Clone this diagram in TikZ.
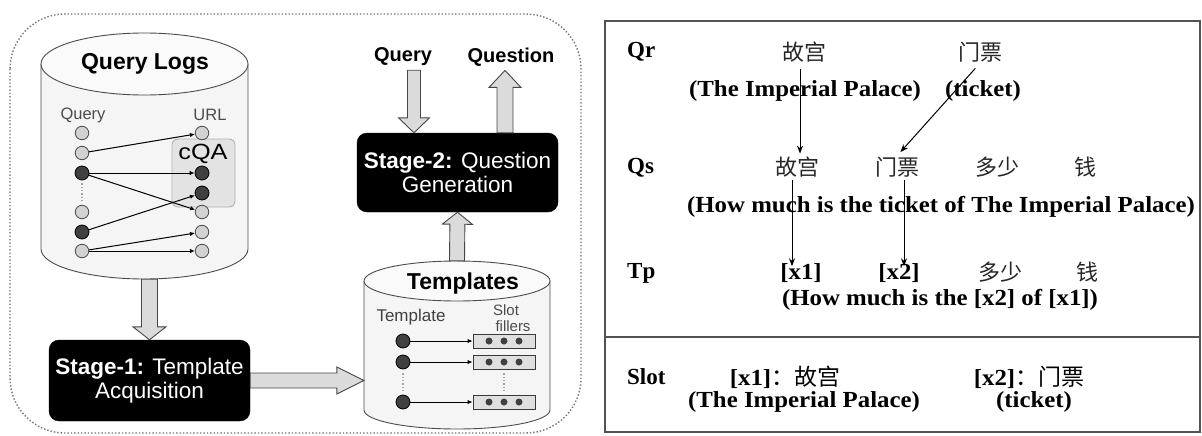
\documentclass[tikz,border=0pt]{standalone}
\usepackage{fontspec}
\setmainfont{Liberation Serif}
\setsansfont{Liberation Sans}
\newfontfamily\cjk{Noto Sans CJK SC}
\usetikzlibrary{calc,arrows.meta}

% broad outlined arrow: start, tip, shaft half-width, head half-width, head length
\newcommand\fatarrow[5]{%
  \coordinate (fa-base) at ($(#2)!#5!(#1)$);
  \draw[fatarrowstyle]
    ($(#1)!#3!90:(#2)$) -- ($(fa-base)!#3!90:(#2)$) -- ($(fa-base)!#4!90:(#2)$)
    -- (#2) -- ($(fa-base)!#4!-90:(#2)$) -- ($(fa-base)!#3!-90:(#2)$)
    -- ($(#1)!#3!-90:(#2)$) -- cycle;}
\newcommand\wideen[1]{\scalebox{1.08}[1]{#1}}
\newcommand\zh[1]{{\cjk\mdseries #1}}

\begin{document}
\begin{tikzpicture}[x=1pt,y=-1pt,
  frame/.style={draw=black!55, dotted, line width=1.4pt, rounded corners=55pt},
  cylline/.style={draw=gray!60!black, line width=0.9pt},
  fatarrowstyle/.style={draw=gray!55!black, fill=gray!28, line width=0.9pt, line join=miter},
  stagebox/.style={fill=black, draw=black, rounded corners=10pt, text=white, align=center,
    font=\sffamily\fontsize{22.5}{23.5}\selectfont, inner sep=0pt},
  lightdot/.style={circle, draw=gray!60!black, fill=gray!35, line width=0.8pt, minimum size=13.5pt, inner sep=0pt},
  darkdot/.style={circle, draw=black, fill=black!75, line width=0.8pt, minimum size=14pt, inner sep=0pt},
  smalldot/.style={circle, fill=black!75, minimum size=7pt, inner sep=0pt},
  slotbox/.style={draw=gray!45!black, fill=gray!25, line width=0.9pt, minimum width=62pt, minimum height=14pt, inner sep=0pt},
  linkarrow/.style={-{Latex[length=5pt,width=4.5pt]}, line width=1pt},
  dotline/.style={gray!70, dotted, line width=1.3pt},
  smalllbl/.style={font=\sffamily\fontsize{16.5}{18}\selectfont, text=black!70, inner sep=1pt},
  toplbl/.style={font=\sffamily\bfseries\fontsize{20}{22}\selectfont, inner sep=1pt},
  panel/.style={draw=gray!65!black, line width=1.6pt},
  en/.style={font=\bfseries\fontsize{23}{26}\selectfont, inner sep=1pt},
  zhnode/.style={font=\cjk\fontsize{22}{26}\selectfont, text=black!85, inner sep=3pt},
  rowlbl/.style={font=\bfseries\fontsize{23}{26}\selectfont, inner sep=0pt, anchor=west},
  maparrow/.style={-{Stealth[length=8pt,width=6pt]}, line width=1pt}]
\useasboundingbox (0,0) rectangle (1202,436);

% ---------- left: the two-stage pipeline ----------
\draw[frame] (10,14) rectangle (581,433);

% Query Logs store
\draw[cylline, fill=gray!8] (41,64) -- (41,249)
  arc[start angle=180, end angle=360, x radius=103.5pt, y radius=30pt] -- (248,64);
\draw[cylline, fill=gray!4] (144.5,64) ellipse [x radius=103.5pt, y radius=31pt];
\node[inner sep=0pt, minimum width=207pt, minimum height=246pt] (logs) at (144.5,156) {};
\node[font=\sffamily\bfseries\fontsize{23}{25}\selectfont] (logtitle) at (145,64) {Query Logs};
\node[smalllbl] (qhead) at (83,115) {Query};
\node[smalllbl] (uhead) at (210,115) {URL};

% cQA group
\node[draw=gray!60, fill=gray!22, line width=0.9pt, rounded corners=6pt,
      minimum width=63pt, minimum height=68pt, inner sep=0pt] (cqa) at (203.5,173) {};
\node[font=\sffamily\fontsize{22}{24}\selectfont, inner sep=0pt] (cqalbl) at (203,154) {\scalebox{1.15}[1]{cQA}};

\node[lightdot] (q1) at (82,133) {};
\node[lightdot] (q2) at (82,153) {};
\node[darkdot]  (q3) at (82,173) {};
\node[lightdot] (q4) at (82,212) {};
\node[darkdot]  (q5) at (82,232) {};
\node[lightdot] (q6) at (82,251) {};
\node[lightdot] (u1) at (202,133) {};
\node[darkdot]  (u2) at (202,173) {};
\node[darkdot]  (u3) at (202,193) {};
\node[lightdot] (u4) at (202,212) {};
\node[lightdot] (u5) at (202,232) {};
\node[lightdot] (u6) at (202,251) {};
\draw[dotline, shorten <=3pt, shorten >=3pt] (q3) -- (q4);

\draw[linkarrow] (q2) -- (u1);
\draw[linkarrow] (q3) -- (u2);
\draw[linkarrow] (q3) -- (u4);
\draw[linkarrow] (q5) -- (u3);
\draw[linkarrow] (q6) -- (u5);
\draw[linkarrow] (q6) -- (u6);

% stage boxes
\node[stagebox, minimum width=201pt, minimum height=81pt] (stage1) at (149.5,380.5)
  {\textbf{Stage-1:} Template\\Acquisition};
\node[stagebox, minimum width=201pt, minimum height=79pt] (stage2) at (457.5,172.5)
  {\textbf{Stage-2:} Question\\Generation};

% Templates store
\draw[cylline, fill=gray!8] (364,281) -- (364,410)
  arc[start angle=180, end angle=360, x radius=93pt, y radius=19pt] -- (550,281);
\draw[cylline, fill=gray!4] (457,281) ellipse [x radius=93pt, y radius=20pt];
\node[inner sep=0pt, minimum width=186pt, minimum height=168pt] (tmpl) at (457,345) {};
\node[font=\sffamily\bfseries\fontsize{23}{25}\selectfont] (tmpltitle) at (463,284) {Templates};
\node[smalllbl, font=\sffamily\fontsize{17}{18}\selectfont, text=black!75] (thead) at (411,317) {Template};
\node[smalllbl, font=\sffamily\fontsize{15}{16}\selectfont] (shead) at (506,310) {Slot};
\node[smalllbl, font=\sffamily\fontsize{15}{16}\selectfont] (fhead) at (513,326) {fillers};

\foreach \n/\y in {1/341, 2/362, 3/402} {
  \node[darkdot] (t\n) at (403,\y) {};
  \node[slotbox] (sf\n) at (504,\y) {};
  \foreach \dx in {-15,0,15}
    \node[smalldot] at ([xshift=\dx pt]sf\n.center) {};
  \draw[linkarrow] (t\n) -- (sf\n);
}
\draw[dotline, shorten <=4pt, shorten >=4pt] (t2) -- (t3);
\draw[dotline, shorten <=4pt, shorten >=4pt] (sf2) -- (sf3);

% input / output labels of stage 2
\node[toplbl] (qin) at (403,57) {Query};
\node[toplbl] (qout) at (511,57) {Question};

% broad flow arrows
\coordinate (la-s) at (logs.south -| stage1.north);
\fatarrow{la-s}{stage1.north}{8pt}{16.5pt}{13pt}
\coordinate (ta-t) at (stage1.east -| tmpl.west);
\fatarrow{stage1.east}{ta-t}{7.5pt}{13.5pt}{27pt}
\fatarrow{tmpl.north}{stage2.south}{7.5pt}{15pt}{12pt}
\coordinate (qa-s) at ([xshift=11pt,yshift=-3pt]qin.south);
\coordinate (qa-t) at (qa-s |- stage2.north);
\fatarrow{qa-s}{qa-t}{6.5pt}{15.5pt}{15pt}
\coordinate (qo-t) at ([xshift=-6pt,yshift=-3pt]qout.south);
\coordinate (qo-s) at (qo-t |- stage2.north);
\fatarrow{qo-s}{qo-t}{8pt}{16pt}{17pt}

% ---------- right: worked example ----------
\draw[panel] (605,21) rectangle (1200,432);
\draw[panel] (605,337) -- (1200,337);

\node[rowlbl] (qrl) at (627,52) {Qr};
\node[zhnode] (qr1) at (804,52) {故宫};
\node[zhnode] (qr2) at (980,52) {门票};
\node[en] (qre1) at (805,91) {\wideen{(The Imperial Palace)}};
\node[en] (qre2) at (983,91) {\wideen{(ticket)}};

\node[rowlbl] (qsl) at (627,168) {Qs};
\node[zhnode] (qs1) at (797,167) {故宫};
\node[zhnode] (qs2) at (897,167) {门票};
\node[zhnode] (qs3) at (997,167) {多少};
\node[zhnode] (qs4) at (1085,167) {钱};
\node[en] (qse) at (941,207) {\wideen{(How much is the ticket of The Imperial Palace)}};

\node[rowlbl] (tpl) at (627,273) {Tp};
\node[en] (tp1) at (801,273) {\wideen{[x1]}};
\node[en] (tp2) at (899,273) {\wideen{[x2]}};
\node[zhnode] (tp3) at (1000,272) {多少};
\node[zhnode] (tp4) at (1087,272) {钱};
\node[en] (tpe) at (940,300) {\wideen{(How much is the [x2] of [x1])}};

\node[rowlbl] (sll) at (627,377) {Slot};
\node[en] (sl1) at (785,377) {\wideen{[x1]}\zh{：故宫}};
\node[en] (sl2) at (1029,377) {\wideen{[x2]}\zh{：门票}};
\node[en] (sle1) at (804,402) {\wideen{(The Imperial Palace)}};
\node[en] (sle2) at (1034,402) {\wideen{(ticket)}};

% word alignments
\coordinate (m1) at ([xshift=-4pt]qr1.south);
\draw[maparrow, shorten <=4pt] (m1) -- (m1 |- qs1.north);
\draw[maparrow, shorten <=4pt, shorten >=2pt] ([xshift=-2pt]qr2.south) -- ([xshift=2pt]qs2.north);
\coordinate (m2) at ([xshift=-5pt]qs1.south);
\draw[maparrow, shorten >=-4pt] (m2) -- (m2 |- tp1.north);
\coordinate (m3) at ([xshift=7pt]qs2.south);
\draw[maparrow, shorten >=-4pt] (m3) -- (m3 |- tp2.north);
\end{tikzpicture}
\end{document}
